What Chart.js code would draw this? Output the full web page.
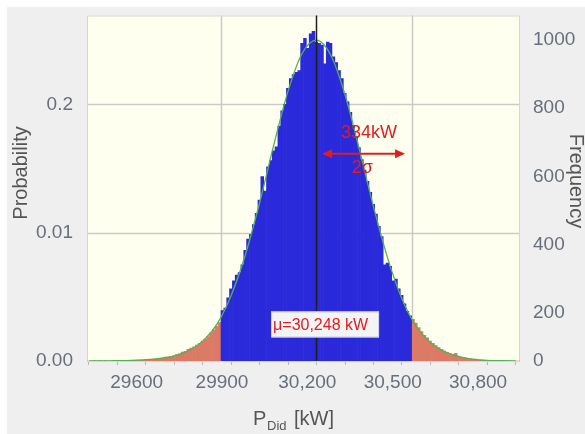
<!DOCTYPE html>
<html><head><meta charset="utf-8">
<style>html,body{margin:0;padding:0;background:#efefef}#wrap{width:585px;height:434px;position:relative}canvas{display:block}</style>
<script src="https://cdn.jsdelivr.net/npm/chart.js@4/dist/chart.umd.min.js"></script>
</head><body><div id="wrap"><canvas id="c" width="585" height="434"></canvas></div>
<script>
// ---- data ----
const binStart = 29449;   // centre of first histogram bin, kW
const binWidth = 10;      // kW
const counts = [
  0,0,1,0,1,0,1,0,0,1, 1,1,1,1,1,1,2,2,2,3, 3,4,5,6,7,8,10,12,12,14,
  16,20,22,28,30,36,40,44,50,55, 62,68,76,88,97,108,120,
  157,165,197,225,250,268,276,300,345,380, 395,425,460,502,575,530,605,625,655,668,
  732,780,800,850,880,893,900,905,990,1006, 975,1020,1028,994,990,985,926,994,990,948,
  930,905,880,834,808,775,735,700,665,628, 595,560,526,488,458,420,388,300,305,295,
  250,255,225,205,178,155,141,
  130,118,104,92,80,72,62,55,48,42, 36,31,27,23,20,24,15,12,10,8,
  7,5,4,3,3,2,2,1,1,1, 1,0,1,0,0,0,0,0
];
const lowerCut = 29914;   // mu - 2 sigma
const upperCut = 30584;   // mu + 2 sigma
const meanKW = 30248;
const fitX = [29450,29500,29550,29600,29650,29700,29750,29800,29850,29900,29950,30000,30050,30100,30150,30200,30250,30300,30350,30400,30450,30500,30550,30600,30650,30700,30750,30800,30850,30900,30950];
const fitY = [0,0.5,1,2,4,8,16,32,62,115,205,332,494,675,842,960,1000,953,830,661,481,320,194,108,57,29,14,6,2,1,0];
const xTickValues = [29500,29600,29700,29800,29900,30000,30100,30200,30300,30400,30500,30600,30700,30800,30900];
const xTickLabels = {29600:'29600',29900:'29900',30200:'30,200',30500:'30,500',30800:'30,800'};
const probTickValues = [0,400,800];
const probTickLabels = ['0.00','0.01','0.2'];
const freqTickValues = [200,400,600,800,1000];
const freqAxisMin = 58, freqAxisMax = 1072;

// ---- build datasets ----
const blueData = [], redData = [];
counts.forEach((c, i) => {
  const x = binStart + i * binWidth;
  if (x > lowerCut && x < upperCut) blueData.push({x, y: c}); else redData.push({x, y: c});
});
const fitData = fitX.map((x, i) => ({x, y: fitY[i]}));

const FONT = "'Liberation Sans', Arial, sans-serif";
const TICK_COLOR = '#676f7c';
const RED = '#dd1f1f';

const decor = {
  id: 'decor',
  beforeDraw(chart) {
    const {ctx, chartArea: a} = chart;
    ctx.save();
    ctx.fillStyle = '#efefef'; ctx.fillRect(0, 0, chart.width, chart.height);
    ctx.fillStyle = '#ffffff'; ctx.fillRect(0, 0, chart.width, 7); ctx.fillRect(0, 0, 7, chart.height);
    ctx.fillStyle = '#fffff0'; ctx.fillRect(a.left, a.top, a.right - a.left, a.bottom - a.top);
    ctx.restore();
  },
  beforeDatasetsDraw(chart) {
    const {ctx, chartArea: a, scales: {x, y}} = chart;
    ctx.save();
    ctx.strokeStyle = '#c9c9c6'; ctx.lineWidth = 1.5;
    [800, 400].forEach(v => { const py = Math.round(y.getPixelForValue(v)) + 0.5; ctx.beginPath(); ctx.moveTo(a.left, py); ctx.lineTo(a.right, py); ctx.stroke(); });
    [lowerCut, upperCut].forEach(v => { const px = Math.round(x.getPixelForValue(v)) + 0.5; ctx.beginPath(); ctx.moveTo(px, a.top); ctx.lineTo(px, a.bottom); ctx.stroke(); });
    ctx.strokeStyle = '#d6d6d6'; ctx.lineWidth = 1;
    ctx.strokeRect(a.left + 0.5, a.top + 0.5, a.right - a.left - 1, a.bottom - a.top);
    ctx.restore();
  },
  afterDatasetsDraw(chart) {
    const {ctx, chartArea: a, scales: {x, y}} = chart;
    ctx.save();
    // mean line
    const mx = Math.round(x.getPixelForValue(meanKW)) + 0.5;
    ctx.strokeStyle = '#1f1f1f'; ctx.lineWidth = 1.5;
    ctx.beginPath(); ctx.moveTo(mx, a.top); ctx.lineTo(mx, a.bottom); ctx.stroke();
    // 2 sigma arrow
    const ax1 = x.getPixelForValue(30269), ax2 = x.getPixelForValue(30561), ay = y.getPixelForValue(646);
    ctx.strokeStyle = RED; ctx.fillStyle = RED; ctx.lineWidth = 2;
    ctx.beginPath(); ctx.moveTo(ax1 + 6, ay); ctx.lineTo(ax2 - 6, ay); ctx.stroke();
    ctx.beginPath(); ctx.moveTo(ax1, ay); ctx.lineTo(ax1 + 10, ay - 4.5); ctx.lineTo(ax1 + 10, ay + 4.5); ctx.closePath(); ctx.fill();
    ctx.beginPath(); ctx.moveTo(ax2, ay); ctx.lineTo(ax2 - 10, ay - 4.5); ctx.lineTo(ax2 - 10, ay + 4.5); ctx.closePath(); ctx.fill();
    ctx.font = '18px ' + FONT; ctx.textAlign = 'center'; ctx.textBaseline = 'middle';
    ctx.fillText('334kW', x.getPixelForValue(30434), y.getPixelForValue(711));
    ctx.fillText('2σ', x.getPixelForValue(30411), y.getPixelForValue(600));
    // mean box
    const bx = x.getPixelForValue(30090), by = y.getPixelForValue(114);
    ctx.fillStyle = '#f4f4f6'; ctx.fillRect(bx, by - 13, 108, 26);
    ctx.strokeStyle = '#cdd0de'; ctx.lineWidth = 1; ctx.strokeRect(bx + 0.5, by - 12.5, 107, 25);
    ctx.fillStyle = RED; ctx.font = '16px ' + FONT; ctx.textAlign = 'left';
    ctx.fillText('μ=30,248 kW', bx + 2, by + 1);
    // axis titles
    ctx.fillStyle = '#555555'; ctx.font = '20px ' + FONT; ctx.textAlign = 'center'; ctx.textBaseline = 'middle';
    ctx.save(); ctx.translate(21, 173); ctx.rotate(-Math.PI / 2); ctx.fillText('Probability', 0, 0); ctx.restore();
    ctx.save(); ctx.translate(576, 181); ctx.rotate(Math.PI / 2); ctx.fillText('Frequency', 0, 0); ctx.restore();
    ctx.textAlign = 'left'; ctx.textBaseline = 'alphabetic';
    ctx.font = '20px ' + FONT; ctx.fillText('P', 253, 425);
    ctx.font = '13px ' + FONT; ctx.fillText('Did', 267, 430);
    ctx.font = '20px ' + FONT; ctx.fillText('[kW]', 294, 425);
    ctx.restore();
  }
};

new Chart(document.getElementById('c'), {
  type: 'bar',
  data: {
    datasets: [
      {type: 'line', data: fitData, borderColor: '#55b055', borderWidth: 1.3, pointRadius: 0, cubicInterpolationMode: 'monotone', order: 0, yAxisID: 'y'},
      {data: blueData, backgroundColor: '#2a2adb', borderWidth: 0, grouped: false, barPercentage: 1, categoryPercentage: 1, order: 1, yAxisID: 'y'},
      {data: redData, backgroundColor: '#dc7a66', borderWidth: 0, grouped: false, barPercentage: 1, categoryPercentage: 1, order: 2, yAxisID: 'y'}
    ]
  },
  options: {
    responsive: false, animation: false, devicePixelRatio: 1,
    layout: {padding: {top: 11, left: 0, right: 0, bottom: 0}},
    plugins: {legend: {display: false}, tooltip: {enabled: false}},
    scales: {
      x: {
        type: 'linear', position: 'bottom', min: 29443, max: 30965, offset: false,
        afterBuildTicks: s => { s.ticks = xTickValues.map(v => ({value: v})); },
        afterFit: s => { s.height = 73; },
        ticks: {autoSkip: false, maxRotation: 0, padding: 8, labelOffset: 5, color: TICK_COLOR,
          font: {family: FONT, size: 19, lineHeight: 1}, callback: v => xTickLabels[v] || ''},
        grid: {drawOnChartArea: false, drawTicks: true, tickLength: 4, color: '#b8b8b8'},
        border: {display: false}
      },
      y: {
        position: 'left', min: 0, max: 1077,
        afterBuildTicks: s => { s.ticks = probTickValues.map(v => ({value: v})); },
        afterFit: s => { s.width = 87; },
        ticks: {padding: 6, color: TICK_COLOR, font: {family: FONT, size: 19, lineHeight: 1},
          callback: v => probTickLabels[probTickValues.indexOf(v)]},
        grid: {display: false}, border: {display: false}
      },
      y2: {
        position: 'right', min: freqAxisMin, max: freqAxisMax,
        afterBuildTicks: s => { s.ticks = [{value: freqAxisMin}].concat(freqTickValues.map(v => ({value: v}))); },
        afterFit: s => { s.width = 65; },
        ticks: {padding: 5, color: TICK_COLOR, font: {family: FONT, size: 19, lineHeight: 1},
          callback: v => v === freqAxisMin ? '0' : String(v)},
        grid: {display: false}, border: {display: false}
      }
    }
  },
  plugins: [decor]
});
</script></body></html>
